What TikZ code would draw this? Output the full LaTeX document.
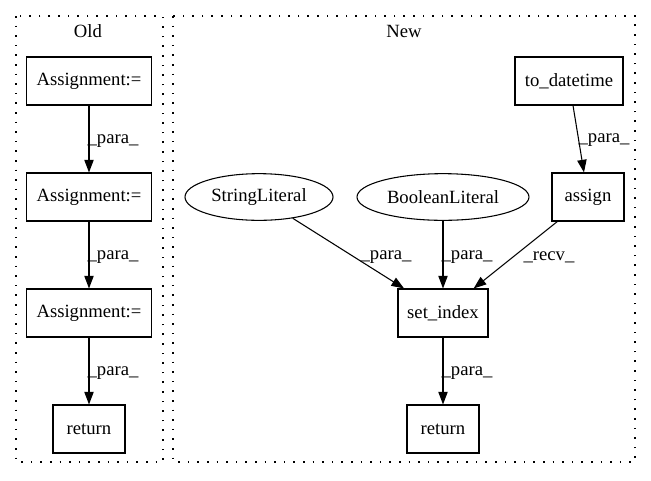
\documentclass[tikz,border=0pt]{standalone}
\usepackage{fontspec}
\setmainfont{Liberation Serif}
\usetikzlibrary{shapes.geometric,arrows.meta}
\begin{document}
\begin{tikzpicture}[x=.75pt,y=-.75pt,
    every node/.style={font=\fontsize{14pt}{16pt}\selectfont},
    box/.style={draw,line width=.8pt,inner sep=0pt,minimum height=36pt},
    lit/.style={draw,ellipse,line width=.8pt,inner sep=0pt,minimum height=35pt},
    edge/.style={draw,line width=.8pt,-{Triangle[length=9.5pt,width=7pt]}},
    lbl/.style={inner sep=0pt},
    cluster/.style={dash pattern=on 1.2pt off 6pt,line width=.8pt}]
        \useasboundingbox (0,0) rectangle (651,480);%
        \draw[cluster] (16,16) rectangle (163,462);%
        \draw[cluster] (173,16) rectangle (635,462);%
        \node (old) at (88,31) {Old};%
        \node (new) at (404,31) {New};%
        \node[box,minimum width=93.75pt] (as1) at (89,81) {Assignment:=};%
        \node[box,minimum width=93.75pt] (as2) at (89,197) {Assignment:=};%
        \node[box,minimum width=93.75pt] (as3) at (89,313) {Assignment:=};%
        \node[box,minimum width=54pt] (ret1) at (89,429) {return};%
        \node[box,minimum width=81pt] (todt) at (569,81) {to\_datetime};%
        \node[box,minimum width=54pt] (assign) at (588,197) {assign};%
        \node[lit,minimum width=111pt] (strlit) at (259,197) {StringLiteral};%
        \node[lit,minimum width=129pt] (boollit) at (443,197) {BooleanLiteral};%
        \node[box,minimum width=67.5pt] (setidx) at (443,313) {set\_index};%
        \node[box,minimum width=54pt] (ret2) at (443,429) {return};%
        \draw[edge] (as1) -- (as2);%
        \draw[edge] (as2) -- (as3);%
        \draw[edge] (as3) -- (ret1);%
        \draw[edge] (todt) -- (assign);%
        \draw[edge] (strlit) -- (setidx);%
        \draw[edge] (boollit) -- (setidx);%
        \draw[edge] (assign) -- (setidx);%
        \draw[edge] (setidx) -- (ret2);%
        \node[lbl] (l1) at (113,141) {\_para\_};%
        \node[lbl] (l2) at (113,257) {\_para\_};%
        \node[lbl] (l3) at (113,373) {\_para\_};%
        \node[lbl] (l4) at (604,140) {\_para\_};%
        \node[lbl] (l5) at (386,257) {\_para\_};%
        \node[lbl] (l6) at (467,257) {\_para\_};%
        \node[lbl] (l7) at (549,257) {\_recv\_};%
        \node[lbl] (l8) at (467,373) {\_para\_};%
      \end{tikzpicture}
\end{document}
